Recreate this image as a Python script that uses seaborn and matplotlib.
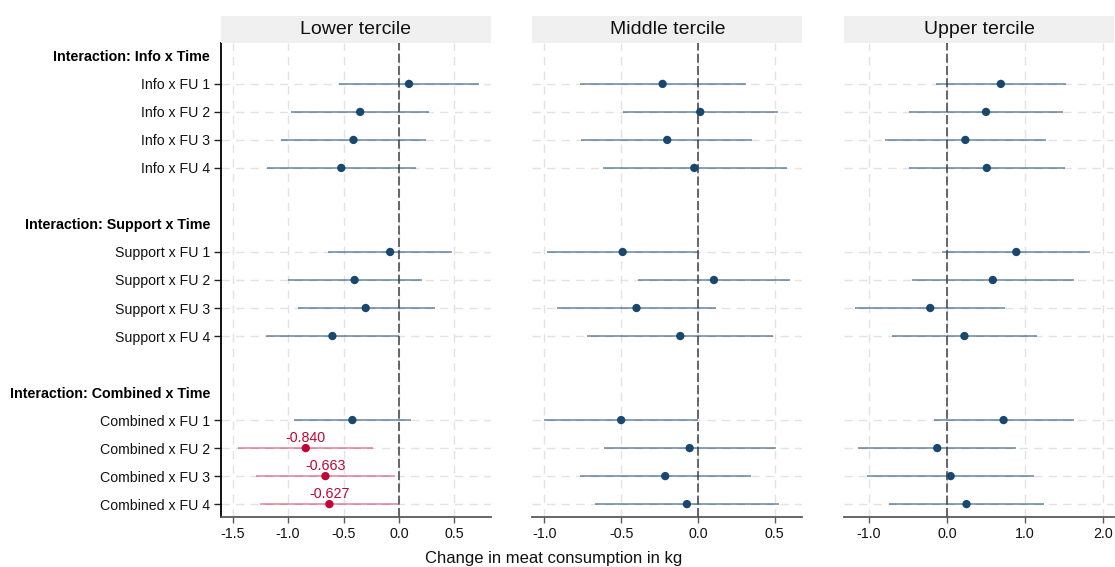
import matplotlib
matplotlib.use("Agg")
import matplotlib.pyplot as plt
import pandas as pd
import seaborn as sns

panels = ["Lower tercile", "Middle tercile", "Upper tercile"]
groups = ["Info", "Support", "Combined"]
waves = ["FU 1", "FU 2", "FU 3", "FU 4"]

# order: Info FU1-4, Support FU1-4, Combined FU1-4
lower_coef = [0.09, -0.35, -0.41, -0.52, -0.08, -0.40, -0.30, -0.60, -0.42, -0.840, -0.663, -0.627]
lower_lo = [-0.54, -0.97, -1.06, -1.19, -0.64, -1.00, -0.91, -1.20, -0.95, -1.45, -1.29, -1.255]
lower_hi = [0.72, 0.27, 0.24, 0.15, 0.48, 0.21, 0.32, 0.0, 0.11, -0.23, -0.04, -0.006]
lower_sig = [0, 0, 0, 0, 0, 0, 0, 0, 0, 1, 1, 1]

middle_coef = [-0.23, 0.015, -0.20, -0.024, -0.49, 0.104, -0.40, -0.115, -0.50, -0.054, -0.213, -0.072]
middle_lo = [-0.77, -0.49, -0.76, -0.62, -0.98, -0.39, -0.92, -0.72, -1.00, -0.61, -0.77, -0.67]
middle_hi = [0.31, 0.52, 0.35, 0.58, 0.0, 0.60, 0.117, 0.49, 0.0, 0.505, 0.343, 0.525]
middle_sig = [0] * 12

upper_coef = [0.69, 0.50, 0.235, 0.51, 0.888, 0.587, -0.215, 0.223, 0.725, -0.125, 0.047, 0.25]
upper_lo = [-0.14, -0.49, -0.79, -0.49, -0.06, -0.45, -1.18, -0.70, -0.17, -1.14, -1.03, -0.74]
upper_hi = [1.53, 1.49, 1.265, 1.51, 1.83, 1.63, 0.74, 1.15, 1.63, 0.88, 1.11, 1.24]
upper_sig = [0] * 12

panel_data = [
    (lower_coef, lower_lo, lower_hi, lower_sig),
    (middle_coef, middle_lo, middle_hi, middle_sig),
    (upper_coef, upper_lo, upper_hi, upper_sig),
]
panel_xlim = [(-1.604, 0.829), (-1.078, 0.679), (-1.32, 2.14)]
panel_ticks = [[-1.5, -1.0, -0.5, 0.0, 0.5], [-1.0, -0.5, 0.0, 0.5], [-1.0, 0.0, 1.0, 2.0]]
panel_left = [221, 532.3, 844]

navy = "#1a476f"
red = "#c10534"

sns.set_theme(style="white")
plt.rcParams["font.family"] = ["Liberation Sans", "DejaVu Sans"]
plt.rcParams["axes.unicode_minus"] = False

# row layout: header, 4 waves, blank gap, ...
labels, rows, is_header = [], [], []
coef_rows = []
for g_i, g in enumerate(groups):
    base = g_i * 6
    labels.append(f"Interaction: {g} x Time")
    rows.append(base)
    is_header.append(True)
    for w_i, w in enumerate(waves):
        labels.append(f"{g} x {w}")
        rows.append(base + 1 + w_i)
        is_header.append(False)
        coef_rows.append(base + 1 + w_i)

W, H = 1115, 567
fig = plt.figure(figsize=(W / 100, H / 100), dpi=100)

ax_bottom = (H - 517) / H
ax_height = (517 - 43) / H
strip_h = 27 / H
ax_w = 270 / W

for p_i, title in enumerate(panels):
    coef, lo, hi, sig = panel_data[p_i]
    df = pd.DataFrame({"row": coef_rows, "coef": coef, "lo": lo, "hi": hi,
                       "sig": ["yes" if s else "no" for s in sig]})
    ax = fig.add_axes([panel_left[p_i] / W, ax_bottom, ax_w, ax_height])
    ax.set_facecolor("white")

    for t in panel_ticks[p_i]:
        ax.axvline(t, color="#e2e2e2", lw=1.0, ls=(0, (6, 4.5)), zorder=0)
    for r in coef_rows:
        ax.axhline(r, color="#e2e2e2", lw=1.0, ls=(0, (6, 4.5)), zorder=0)
    ax.axvline(0, color="#5a5a5a", lw=1.3, ls=(0, (5, 1.8)), zorder=1)

    for s, col, a in [("no", navy, 0.65), ("yes", red, 0.5)]:
        sub = df[df["sig"] == s]
        ax.hlines(sub["row"], sub["lo"], sub["hi"], color=col, alpha=a, lw=1.1, zorder=2)
    sns.scatterplot(data=df, x="coef", y="row", hue="sig",
                    palette={"no": navy, "yes": red}, s=36, linewidth=0,
                    legend=False, ax=ax, zorder=3)
    for _, r in df[df["sig"] == "yes"].iterrows():
        ax.annotate(f"{r['coef']:.3f}", (r["coef"], r["row"]), xytext=(0, 4.5),
                    textcoords="offset points", ha="center", va="baseline",
                    color=red, fontsize=10.3)

    ax.set_xlim(*panel_xlim[p_i])
    ax.set_ylim(16.46, -0.46)
    ax.set_xticks(panel_ticks[p_i])
    ax.set_xticklabels([f"{t:.1f}" for t in panel_ticks[p_i]], fontsize=10.3, color="#111111")
    ax.tick_params(axis="x", bottom=True, length=4, width=1, color="#5a5a5a", pad=3)
    ax.set_xlabel("")
    ax.set_ylabel("")
    for side in ["top", "right"]:
        ax.spines[side].set_visible(False)
    ax.spines["bottom"].set_color("#5a5a5a")
    ax.spines["bottom"].set_linewidth(1.3)

    if p_i == 0:
        ax.set_yticks(rows)
        ax.set_yticklabels(labels, fontsize=10.2, color="#111111")
        ax.tick_params(axis="y", left=True, length=5, width=1, color="#222222", pad=3)
        for tick, lab, h in zip(ax.yaxis.get_major_ticks(), ax.get_yticklabels(), is_header):
            if h:
                tick.tick1line.set_visible(False)
                lab.set_fontweight("bold")
                lab.set_fontsize(10.3)
                lab.set_color("black")
        ax.spines["left"].set_color("black")
        ax.spines["left"].set_linewidth(1.3)
    else:
        ax.set_yticks([])
        ax.spines["left"].set_visible(False)

    strip = fig.add_axes([panel_left[p_i] / W, ax_bottom + ax_height, ax_w, strip_h])
    strip.set_facecolor("#f0f0f0")
    strip.set_xticks([])
    strip.set_yticks([])
    for sp in strip.spines.values():
        sp.set_visible(False)
    strip.text(0.5, 0.5, title, ha="center", va="center", fontsize=14, color="#111111",
               transform=strip.transAxes)

fig.text(554 / W, (H - 558) / H, "Change in meat consumption in kg", ha="center",
         va="center", fontsize=12, color="#111111")

fig.savefig("out.png", dpi=100, facecolor="white")
